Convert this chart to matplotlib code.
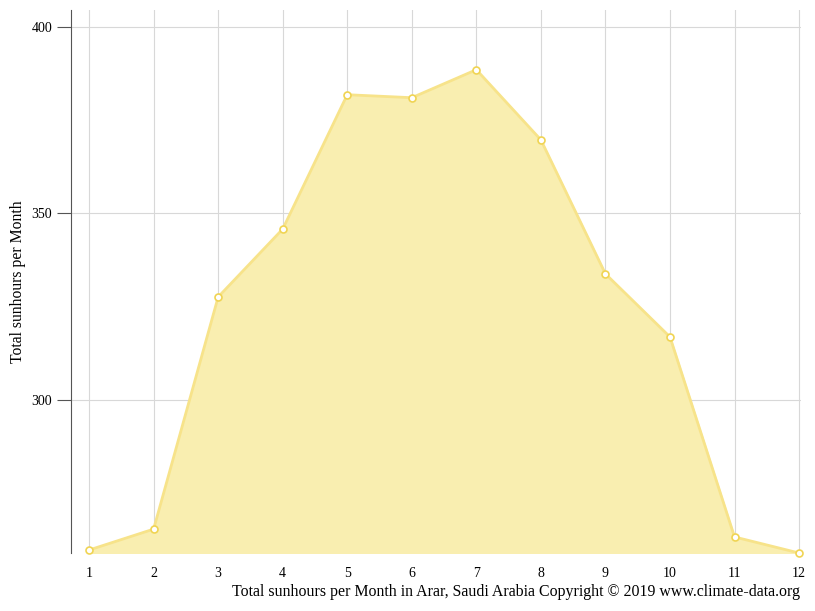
import matplotlib
matplotlib.use("Agg")
import matplotlib.pyplot as plt

months = [1, 2, 3, 4, 5, 6, 7, 8, 9, 10, 11, 12]
sunhours = [259.8, 265.4, 327.6, 345.8, 381.8, 381.0, 388.5, 369.7, 333.8, 316.9, 263.3, 259.0]
yticks = [300, 350, 400]

plt.rcParams['font.family'] = ['Liberation Serif', 'DejaVu Serif']
fig = plt.figure(figsize=(8.15, 6.11), dpi=100)
ax = fig.add_axes([71/815, 1-553/611, (801-71)/815, (553-10)/611])
ax.set_xlim(0.72, 12.03)
ax.set_ylim(259, 404.5)
ax.fill_between(months, sunhours, 259, color='#f9eeb0', zorder=2)
ax.plot(months, sunhours, color='#f7e38a', lw=2, zorder=3)
ax.plot(months, sunhours, 'o', ms=5, mfc='white', mec='#f0d453', mew=1.2, zorder=4, clip_on=False)
ax.set_xticks(months)
ax.set_yticks(yticks)
ax.grid(True, color='#d8d8d8', lw=0.8, zorder=0)
for s in ['top', 'right', 'bottom']:
    ax.spines[s].set_visible(False)
ax.spines['left'].set_color('#555555')
ax.tick_params(axis='x', length=0, pad=10, labelsize=10)
ax.tick_params(axis='y', length=10, color='#555555', labelsize=10)
ax.set_ylabel('Total sunhours per Month', fontsize=11.3)
fig.text(800/815, 1-592/611, 'Total sunhours per Month in Arar, Saudi Arabia Copyright © 2019 www.climate-data.org',
         ha='right', va='center', fontsize=11.45)
fig.savefig('out.png', dpi=100)
